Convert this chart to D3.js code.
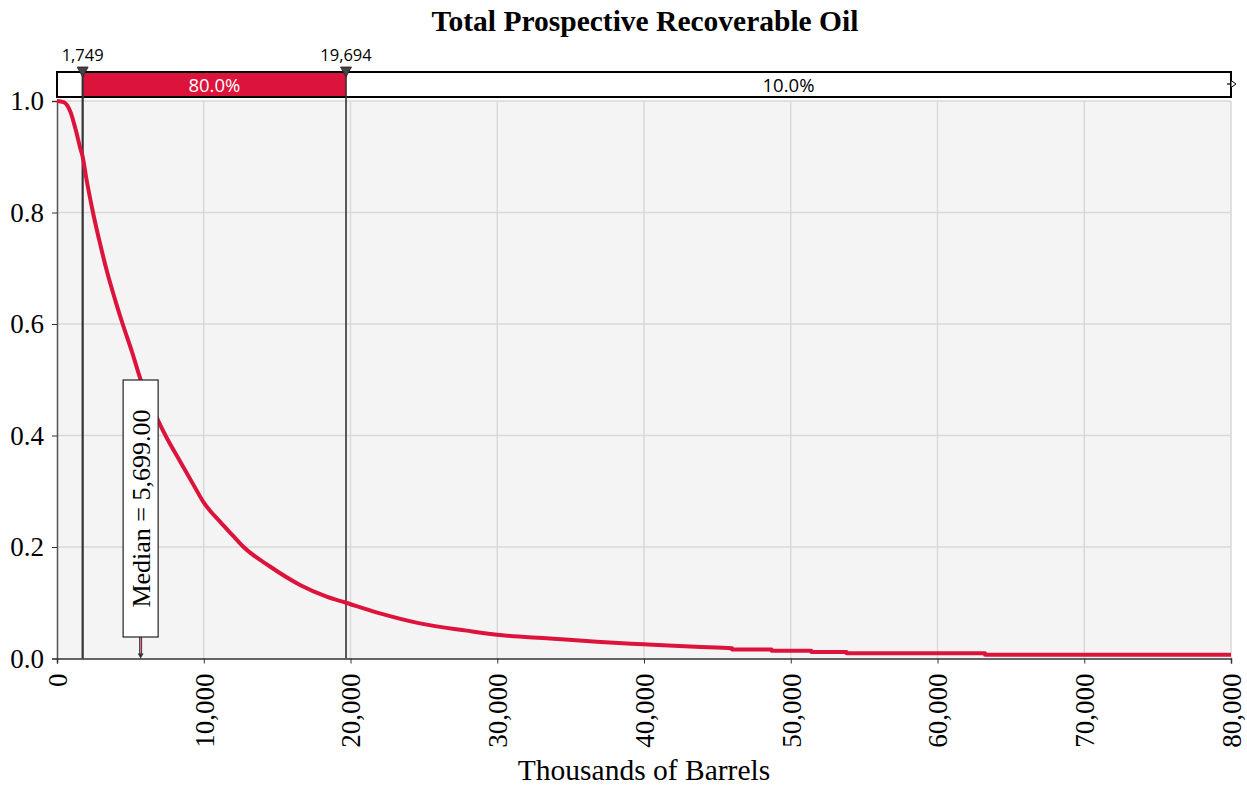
<!DOCTYPE html>
<html>
<head>
<meta charset="utf-8">
<script src="https://cdn.jsdelivr.net/npm/d3@7"></script>
<style>
  body { margin: 0; background: #fff; }
  svg text { font-family: "Liberation Serif", "Times New Roman", serif; }
  .sans { font-family: "Open Sans", "DejaVu Sans", sans-serif !important; }
</style>
</head>
<body>
<div id="container"></div>
<script>
/* DATA */
// exceedance curve (value, probability)
const oilValues = [0, 450, 906, 1249, 1590, 1749, 2000, 2453, 2953, 3407, 3976, 4475, 5111, 5699, 6926, 7493, 8402, 9311, 9994, 11120, 12039, 12697, 14514, 16559, 18376, 19694, 22010, 24736, 27916, 30187, 33594, 36775, 40000, 43500, 46000, 46000, 48700, 48700, 51400, 51400, 53800, 53800, 63240, 63240, 80000];
const exceedProb = [1.0, 0.998, 0.981, 0.951, 0.915, 0.9, 0.861, 0.8, 0.742, 0.694, 0.642, 0.6, 0.55, 0.5, 0.425, 0.395, 0.353, 0.311, 0.28, 0.245, 0.219, 0.2005, 0.165, 0.132, 0.111, 0.1, 0.081, 0.063, 0.05, 0.042, 0.036, 0.03, 0.0255, 0.021, 0.0185, 0.016, 0.016, 0.014, 0.014, 0.0117, 0.0117, 0.0095, 0.0095, 0.0066, 0.0066];

const markerValues = [1749, 19694];
const markerLabels = ["1,749", "19,694"];
const bandPercents = ["10.0%", "80.0%", "10.0%"];
const medianValue = 5699;
const medianLabel = "Median = 5,699.00";

const xTicks = [0, 10000, 20000, 30000, 40000, 50000, 60000, 70000, 80000];
const yTicks = [0, 0.2, 0.4, 0.6, 0.8, 1.0];

/* LAYOUT */
const width = 1247, height = 787;
const margin = { left: 57, right: 16, top: 101, bottom: 128.5 };
const red = "#dc143c";

const svg = d3.select("#container")
  .append("svg")
  .attr("width", width)
  .attr("height", height);

const x = d3.scaleLinear().domain([0, 80000]).range([margin.left, width - margin.right]);
const y = d3.scaleLinear().domain([0, 1]).range([height - margin.bottom, margin.top]);

// plot background
svg.append("rect")
  .attr("x", x(0)).attr("y", y(1))
  .attr("width", x(80000) - x(0)).attr("height", y(0) - y(1))
  .attr("fill", "#f4f4f4");

// gridlines
svg.append("g").selectAll("line")
  .data(xTicks.slice(1))
  .join("line")
  .attr("x1", d => x(d)).attr("x2", d => x(d))
  .attr("y1", y(1)).attr("y2", y(0))
  .attr("stroke", "#d9d9d9").attr("stroke-width", 1.5);

svg.append("g").selectAll("line")
  .data(yTicks.slice(1))
  .join("line")
  .attr("x1", x(0)).attr("x2", x(80000))
  .attr("y1", d => y(d)).attr("y2", d => y(d))
  .attr("stroke", "#d9d9d9").attr("stroke-width", 1.5);

// axes
const yAxis = svg.append("g")
  .attr("transform", `translate(${x(0)},0)`)
  .call(d3.axisLeft(y).tickValues(yTicks).tickFormat(d3.format(".1f")).tickSize(5).tickPadding(8));
yAxis.select(".domain").attr("stroke", "#555").attr("stroke-width", 1.5);
yAxis.selectAll(".tick line").attr("stroke", "#333");
yAxis.selectAll("text").attr("font-size", 27).attr("fill", "#000")
  .style("font-family", "Liberation Serif, serif");

const xAxis = svg.append("g")
  .attr("transform", `translate(0,${y(0)})`)
  .call(d3.axisBottom(x).tickValues(xTicks).tickFormat(d3.format(",")).tickSize(5));
xAxis.select(".domain").attr("stroke", "#333").attr("stroke-width", 1.5);
xAxis.selectAll(".tick line").attr("stroke", "#333");
xAxis.selectAll("text")
  .attr("font-size", 27).attr("fill", "#000")
  .style("font-family", "Liberation Serif, serif")
  .attr("text-anchor", "end")
  .attr("transform", "rotate(-90)")
  .attr("x", -15).attr("y", 0).attr("dy", "0.35em");

// axis title
svg.append("text")
  .attr("x", (x(0) + x(80000)) / 2).attr("y", 780)
  .attr("text-anchor", "middle").attr("font-size", 29.5)
  .text("Thousands of Barrels");

// chart title
svg.append("text")
  .attr("x", 645).attr("y", 31)
  .attr("text-anchor", "middle").attr("font-size", 29.5).attr("font-weight", "bold")
  .text("Total Prospective Recoverable Oil");

// top band
const bandTop = 72, bandBottom = 97;
const bandEdges = [0, markerValues[0], markerValues[1], 80000];
svg.append("g").selectAll("rect")
  .data(bandPercents)
  .join("rect")
  .attr("x", (d, i) => x(bandEdges[i]))
  .attr("y", bandTop)
  .attr("width", (d, i) => x(bandEdges[i + 1]) - x(bandEdges[i]))
  .attr("height", bandBottom - bandTop)
  .attr("fill", (d, i) => i === 1 ? red : "#fff");

svg.append("rect")
  .attr("x", x(0)).attr("y", bandTop)
  .attr("width", x(80000) - x(0)).attr("height", bandBottom - bandTop)
  .attr("fill", "none").attr("stroke", "#000").attr("stroke-width", 2);

svg.append("text").attr("class", "sans")
  .attr("x", (x(markerValues[0]) + x(markerValues[1])) / 2).attr("y", 92)
  .attr("text-anchor", "middle").attr("font-size", 18.5).attr("fill", "#fff")
  .text(bandPercents[1]);
svg.append("text").attr("class", "sans")
  .attr("x", (x(markerValues[1]) + x(80000)) / 2).attr("y", 92)
  .attr("text-anchor", "middle").attr("font-size", 18.5).attr("fill", "#000")
  .text(bandPercents[2]);

// small arrow glyph at right end of band
const rx = x(80000);
svg.append("line").attr("x1", rx - 4).attr("x2", rx + 1).attr("y1", 84).attr("y2", 84)
  .attr("stroke", "#000").attr("stroke-width", 1.2);
svg.append("path").attr("d", `M${rx},80.5 L${rx + 5},84 L${rx},87.5 Z`)
  .attr("fill", "#fff").attr("stroke", "#000").attr("stroke-width", 1);

// marker lines
svg.append("g").selectAll("line")
  .data(markerValues)
  .join("line")
  .attr("x1", d => x(d)).attr("x2", d => x(d))
  .attr("y1", bandTop).attr("y2", y(0))
  .attr("stroke", "#333").attr("stroke-width", (d, i) => i === 0 ? 2.2 : 1.6);

// marker triangles
svg.append("g").selectAll("path")
  .data(markerValues)
  .join("path")
  .attr("d", d => `M${x(d) - 5.5},67 L${x(d) + 5.5},67 L${x(d)},77 Z`)
  .attr("fill", "#444").attr("stroke", "#222").attr("stroke-width", 0.8);

svg.append("g").selectAll("text")
  .data(markerValues)
  .join("text")
  .attr("class", "sans")
  .attr("x", d => x(d)).attr("y", 61)
  .attr("text-anchor", "middle").attr("font-size", 16.5)
  .text((d, i) => markerLabels[i]);

// exceedance curve
const curveData = oilValues.map((v, i) => [v, exceedProb[i]]);
const line = d3.line().x(d => x(d[0])).y(d => y(d[1])).curve(d3.curveMonotoneX);
svg.append("path")
  .datum(curveData)
  .attr("d", line)
  .attr("fill", "none")
  .attr("stroke", red)
  .attr("stroke-width", 4)
  .attr("stroke-linejoin", "round");

// median box
const mx = x(medianValue);
const boxTop = 380, boxBottom = 637, boxW = 35;
svg.append("line")
  .attr("x1", mx).attr("x2", mx).attr("y1", boxBottom).attr("y2", y(0) - 4)
  .attr("stroke", "#333").attr("stroke-width", 3);
svg.append("line")
  .attr("x1", mx).attr("x2", mx).attr("y1", boxBottom).attr("y2", y(0) - 4)
  .attr("stroke", "#e07090").attr("stroke-width", 1.2);
svg.append("path")
  .attr("d", `M${mx - 3},${y(0) - 5} L${mx + 3},${y(0) - 5} L${mx},${y(0)} Z`)
  .attr("fill", "#333");
svg.append("rect")
  .attr("x", mx - boxW / 2).attr("y", boxTop)
  .attr("width", boxW).attr("height", boxBottom - boxTop)
  .attr("fill", "#fff").attr("stroke", "#222").attr("stroke-width", 1.2);
svg.append("text")
  .attr("transform", `translate(${mx + 9},${(boxTop + boxBottom) / 2}) rotate(-90)`)
  .attr("text-anchor", "middle").attr("font-size", 26)
  .text(medianLabel);
</script>
</body>
</html>
